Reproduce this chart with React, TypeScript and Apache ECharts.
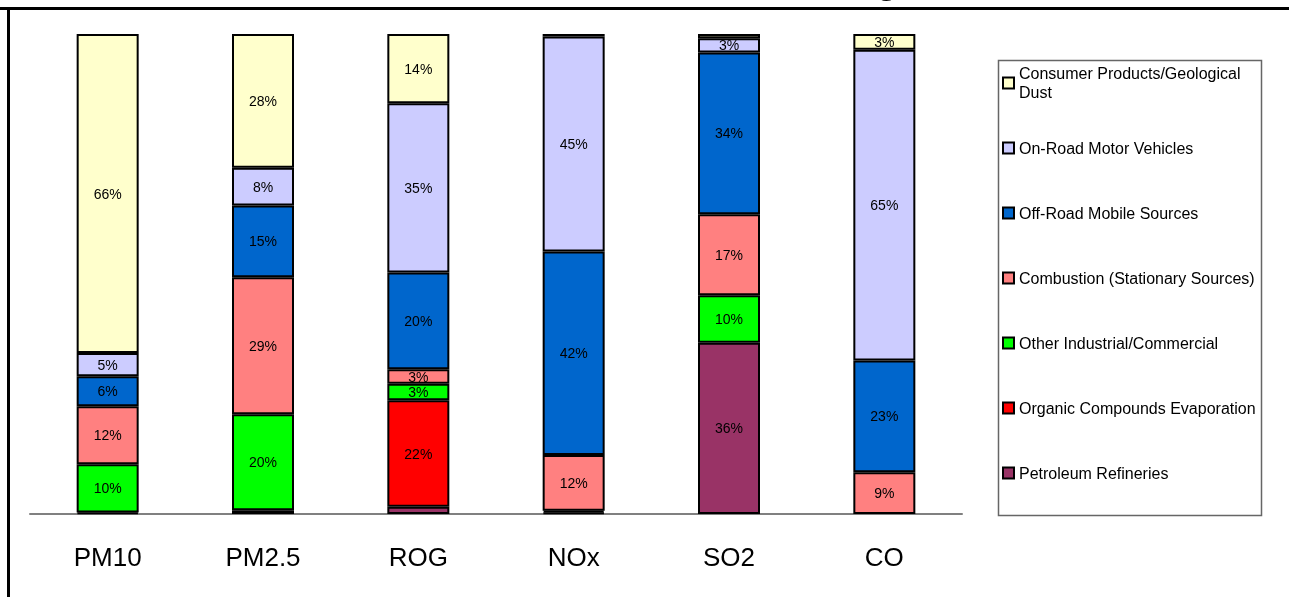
import React, { useEffect, useRef } from "react";
import * as echarts from "echarts";

const categories = ["PM10", "PM2.5", "ROG", "NOx", "SO2", "CO"];

const seriesNames = [
  "Petroleum Refineries",
  "Organic Compounds Evaporation",
  "Other Industrial/Commercial",
  "Combustion (Stationary Sources)",
  "Off-Road Mobile Sources",
  "On-Road Motor Vehicles",
  "Consumer Products/Geological Dust",
];

const petroleum = [0.3, 0.8, 1.5, 0.3, 36, 0];
const organic = [0, 0, 22, 0, 0, 0];
const otherIndustrial = [10, 20, 3.4, 0.4, 10, 0];
const combustion = [12, 28.6, 3, 11.6, 17, 8.7];
const offRoad = [6.2, 15, 20, 42.4, 34, 23.3];
const onRoad = [4.8, 7.9, 35, 44.8, 3, 64.7];
const consumer = [66, 27.9, 14.3, 0.5, 0.9, 3.3];

const seriesValues = [petroleum, organic, otherIndustrial, combustion, offRoad, onRoad, consumer];
const colors = ["#993366", "#FF0000", "#00FF00", "#FF8080", "#0066CC", "#CCCCFF", "#FFFFCC"];

const legendOrder = [
  "Consumer Products/Geological Dust",
  "On-Road Motor Vehicles",
  "Off-Road Mobile Sources",
  "Combustion (Stationary Sources)",
  "Other Industrial/Commercial",
  "Organic Compounds Evaporation",
  "Petroleum Refineries",
];

const FONT = "'Liberation Sans', Arial, sans-serif";

export default function App() {
  const ref = useRef<HTMLDivElement>(null);
  useEffect(() => {
    if (!ref.current) return;
    const chart = echarts.init(ref.current, null, { renderer: "svg" });
    const totals = categories.map((_, i) =>
      seriesValues.reduce((s, arr) => s + arr[i], 0)
    );
    const series = seriesNames.map((name, si) => ({
      name,
      type: "bar",
      stack: "total",
      barWidth: 62,
      data: seriesValues[si].map((v, i) =>
        v === 0 ? null : (v / totals[i]) * 100
      ),
      itemStyle: { color: colors[si], borderColor: "#000", borderWidth: 2 },
      label: {
        show: true,
        position: "inside",
        fontFamily: FONT,
        fontSize: 14,
        color: "#000",
        formatter: (p: any) =>
          p.value != null && p.value >= 2.5 ? Math.round(p.value) + "%" : "",
      },
      emphasis: { disabled: true },
    }));

    const legendData = legendOrder.map((name, i) =>
      i === 0
        ? {
            name,
            textStyle: { padding: [23, 0, 4, 0], lineHeight: 19 },
          }
        : { name, textStyle: { padding: [23, 0, 23, 0], lineHeight: 19 } }
    );

    chart.setOption({
      animation: false,
      color: colors,
      grid: { left: 30, right: 327, top: 34, bottom: 83 },
      xAxis: {
        type: "category",
        data: categories,
        axisLine: { show: true, lineStyle: { color: "#808080", width: 2 } },
        axisTick: { show: false },
        axisLabel: { fontFamily: FONT, fontSize: 26, color: "#000", margin: 30 },
      },
      yAxis: {
        type: "value",
        min: 0,
        max: 100,
        show: false,
        splitLine: { show: false },
      },
      legend: {
        orient: "vertical",
        left: 1002,
        top: 50.5,
        padding: 0,
        itemGap: 0,
        itemWidth: 11,
        itemHeight: 11,
        icon: "rect",
        itemStyle: { borderColor: "#000", borderWidth: 2 },
        selectedMode: false,
        textStyle: { fontFamily: FONT, fontSize: 16, color: "#000" },
        formatter: (n: string) =>
          n === "Consumer Products/Geological Dust"
            ? "Consumer Products/Geological\nDust"
            : n,
        data: legendData,
      },
      graphic: [
        {
          type: "rect",
          shape: { x: 998.5, y: 60.5, width: 263, height: 455 },
          style: { fill: "none", stroke: "#666", lineWidth: 1.5 },
          silent: true,
        },
        {
          type: "line",
          shape: { x1: 0, y1: 8.5, x2: 1289, y2: 8.5 },
          style: { stroke: "#000", lineWidth: 3 },
          silent: true,
        },
        {
          type: "line",
          shape: { x1: 8.5, y1: 7, x2: 8.5, y2: 597 },
          style: { stroke: "#000", lineWidth: 3 },
          silent: true,
        },
        {
          type: "text",
          x: 887,
          y: -20,
          style: {
            text: "g",
            fontFamily: FONT,
            fontSize: 36,
            fontWeight: "bold",
            fill: "#000",
            align: "center",
            verticalAlign: "middle",
          },
          silent: true,
        },
      ],
      series,
    });
    return () => chart.dispose();
  }, []);
  return (
    <div
      ref={ref}
      style={{ position: "fixed", left: 0, top: 0, width: 1289, height: 597 }}
    />
  );
}
